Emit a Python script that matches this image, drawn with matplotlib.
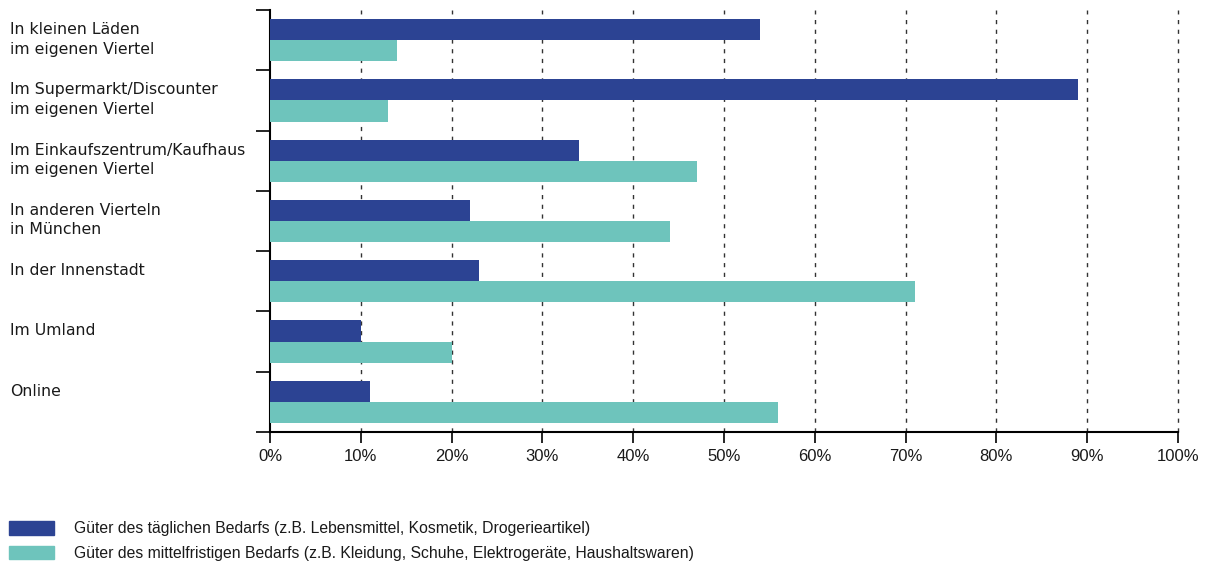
import numpy as np
import matplotlib.pyplot as plt
from matplotlib.patches import Patch
from matplotlib.transforms import blended_transform_factory

# Daten
kategorien = [
    'In kleinen Läden\nim eigenen Viertel',
    'Im Supermarkt/Discounter\nim eigenen Viertel',
    'Im Einkaufszentrum/Kaufhaus\nim eigenen Viertel',
    'In anderen Vierteln\nin München',
    'In der Innenstadt',
    'Im Umland',
    'Online',
]
taeglich = [54, 89, 34, 22, 23, 10, 11]
mittelfristig = [14, 13, 47, 44, 71, 20, 56]
legende = [
    'Güter des täglichen Bedarfs (z.B. Lebensmittel, Kosmetik, Drogerieartikel)',
    'Güter des mittelfristigen Bedarfs (z.B. Kleidung, Schuhe, Elektrogeräte, Haushaltswaren)',
]
x_ticks = np.arange(0, 101, 10)

c_dunkel = '#2c4393'
c_hell = '#6ec4bc'

plt.rcParams['font.family'] = ['Liberation Sans', 'DejaVu Sans']

fig = plt.figure(figsize=(12.12, 5.71), dpi=100)
ax = fig.add_axes([270 / 1212, 1 - 432 / 571, 908 / 1212, 422 / 571])

n = len(kategorien)
pos = np.arange(n)
ax.barh(pos + 0.325, taeglich, height=0.35, color=c_dunkel, zorder=3)
ax.barh(pos + 0.675, mittelfristig, height=0.35, color=c_hell, zorder=3)

ax.set_xlim(0, 100)
ax.set_ylim(n, 0)

ax.set_xticks(x_ticks)
ax.set_xticklabels([f'{v}%' for v in x_ticks], fontsize=12, color='#1a1a1a')
ax.set_yticks(np.arange(n + 1))
ax.set_yticklabels([])
ax.tick_params(axis='y', length=10, width=1.2, direction='out')
ax.tick_params(axis='x', length=8, width=1.2, direction='out', pad=4)

for x in x_ticks[1:]:
    ax.axvline(x, color='#333333', linestyle=(0, (3, 4)), linewidth=1,
               zorder=1, clip_on=False)

for s in ['top', 'right']:
    ax.spines[s].set_visible(False)
for s in ['left', 'bottom']:
    ax.spines[s].set_linewidth(1.5)
    ax.spines[s].set_color('black')

# Kategorienamen links
trans = blended_transform_factory(fig.transFigure, ax.transData)
for i, lab in enumerate(kategorien):
    ax.text(10 / 1212, i + 0.2, lab, transform=trans, family='DejaVu Sans',
            fontsize=11.3, va='top', ha='left', linespacing=1.38, color='#1a1a1a')

handles = [Patch(color=c_dunkel), Patch(color=c_hell)]
fig.legend(handles, legende, loc='upper left', bbox_to_anchor=(3 / 1212, 1 - 515 / 571),
           frameon=False, fontsize=11.3, handlelength=2.85, handleheight=0.95,
           handletextpad=1.25, labelspacing=0.58, borderaxespad=0,
           labelcolor='#1a1a1a')

fig.savefig('out.png', dpi=100)
